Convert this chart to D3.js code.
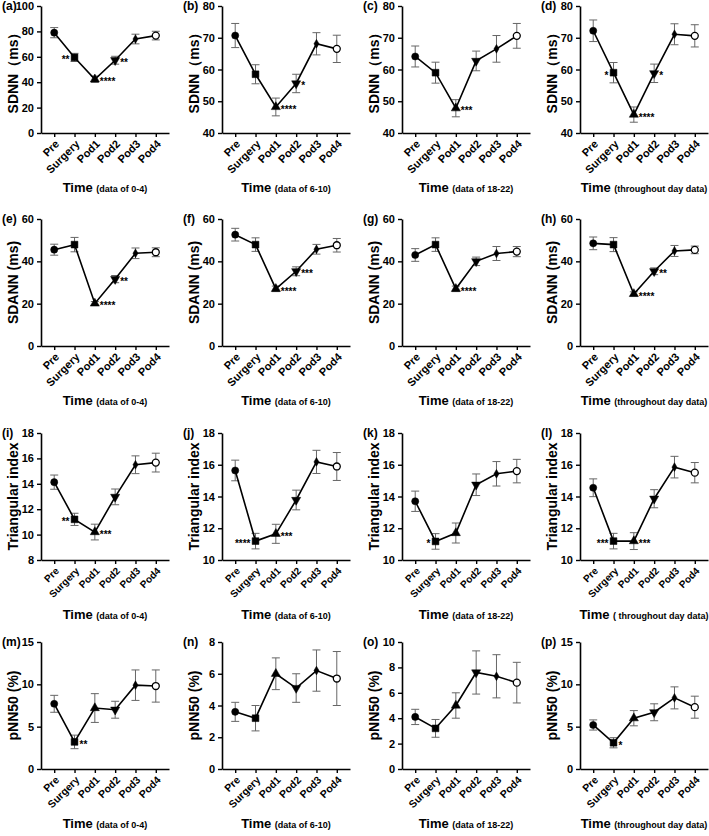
<!DOCTYPE html>
<html>
<head>
<meta charset="utf-8">
<script src="https://cdn.jsdelivr.net/npm/d3@7"></script>
<style>
  body { margin: 0; background: #fff; }
  svg { display: block; }
  text { font-family: "Liberation Sans", Arial, sans-serif; font-weight: bold; fill: #000; }
</style>
</head>
<body>
<svg id="chart" width="709" height="836"></svg>
<script>
// categories on every x axis
var categories = ["Pre", "Surgery", "Pod1", "Pod2", "Pod3", "Pod4"];

// SDNN (ms)
var sdnn04 = [79, 59.5, 42.3, 57.3, 74, 76.7];
var sdnn04Err = [4, 3.2, 2.5, 3.1, 3.8, 3.4];
var sdnn610 = [70.7, 58.5, 48.2, 55.6, 68.1, 66.5];
var sdnn610Err = [3.8, 3, 2.8, 2.9, 3.5, 4.3];
var sdnn1822 = [64.1, 59, 47.8, 62.7, 66.5, 70.6];
var sdnn1822Err = [3.3, 3.3, 2.7, 3.1, 4.2, 3.9];
var sdnnDay = [72.2, 59, 45.8, 58.8, 71.1, 70.6];
var sdnnDayErr = [3.4, 3.2, 2.4, 2.9, 3.3, 3.5];

// SDANN (ms)
var sdann04 = [45.5, 47.9, 20.1, 31.6, 43.8, 44.3];
var sdann04Err = [2.6, 3.4, 0.9, 1.7, 2.5, 2.1];
var sdann610 = [52.6, 47.9, 27, 35.3, 45.7, 47.6];
var sdann610Err = [3, 3.2, 1.3, 2.1, 2.3, 3.2];
var sdann1822 = [43, 47.9, 27, 40, 43.7, 44.6];
var sdann1822Err = [3, 3.2, 1.3, 2, 3.3, 2.4];
var sdannDay = [48.5, 47.9, 24.6, 35.3, 44.9, 45.4];
var sdannDayErr = [3, 3.3, 1, 1.6, 2.6, 1.8];

// Triangular index
var tri04 = [14.13, 11.2, 10.2, 12.97, 15.5, 15.67];
var tri04Err = [0.56, 0.48, 0.62, 0.62, 0.7, 0.74];
var tri610 = [15.64, 11.19, 11.65, 13.78, 16.18, 15.89];
var tri610Err = [0.65, 0.49, 0.6, 0.62, 0.73, 0.88];
var tri1822 = [13.7, 11.17, 11.7, 14.74, 15.43, 15.6];
var tri1822Err = [0.64, 0.49, 0.63, 0.68, 0.77, 0.74];
var triDay = [14.55, 11.19, 11.19, 13.86, 15.85, 15.5];
var triDayErr = [0.56, 0.49, 0.53, 0.57, 0.68, 0.64];

// pNN50 (%)
var pnn04 = [7.7, 3.2, 7.2, 7, 9.9, 9.8];
var pnn04Err = [1, 0.8, 1.7, 1, 1.8, 1.9];
var pnn610 = [3.6, 3.2, 6, 5.1, 6.2, 5.7];
var pnn610Err = [0.6, 0.8, 1, 0.9, 1.3, 1.7];
var pnn1822 = [4.1, 3.2, 5, 7.6, 7.3, 6.8];
var pnn1822Err = [0.6, 0.7, 1, 1.7, 1.7, 1.6];
var pnnDay = [5.2, 3.1, 6, 6.7, 8.4, 7.3];
var pnnDayErr = [0.6, 0.6, 0.9, 1, 1.3, 1.3];

// significance marks ("<" = drawn left of the point)
var sdnn04Sig = ["", "<**", "****", "**", "", ""];
var sdnn610Sig = ["", "", "****", "*", "", ""];
var sdnn1822Sig = ["", "", "***", "", "", ""];
var sdnnDaySig = ["", "<*", "****", "*", "", ""];
var sdann04Sig = ["", "", "****", "**", "", ""];
var sdann610Sig = ["", "", "****", "***", "", ""];
var sdann1822Sig = ["", "", "****", "", "", ""];
var sdannDaySig = ["", "", "****", "**", "", ""];
var tri04Sig = ["", "<**", "***", "", "", ""];
var tri610Sig = ["", "<****", "***", "", "", ""];
var tri1822Sig = ["", "<*", "", "", "", ""];
var triDaySig = ["", "<***", "***", "", "", ""];
var pnn04Sig = ["", "**", "", "", "", ""];
var pnn610Sig = ["", "", "", "", "", ""];
var pnn1822Sig = ["", "", "", "", "", ""];
var pnnDaySig = ["", "*", "", "", "", ""];

// axis tick labels
var sdnn04Ticks = [0, 20, 40, 60, 80, 100];
var sdnnTicks = [40, 50, 60, 70, 80];
var sdannTicks = [0, 20, 40, 60];
var triTicks04 = [8, 10, 12, 14, 16, 18];
var triTicks = [10, 12, 14, 16, 18];
var pnnTicks15 = [0, 5, 10, 15];
var pnnTicks8 = [0, 2, 4, 6, 8];
var pnnTicks10 = [0, 2, 4, 6, 8, 10];

var subtitles = ["(data of 0-4)", "(data of 6-10)", "(data of 18-22)", "(throughout day data)"];
var subtitlesTri = ["(data of 0-4)", "(data of 6-10)", "(data of 18-22)", "( throughout day data)"];

var panels = [
  {id: "a", ylab: "SDNN（ms）", ticks: sdnn04Ticks, v: sdnn04, e: sdnn04Err, sig: sdnn04Sig, sub: subtitles[0]},
  {id: "b", ylab: "SDNN（ms）", ticks: sdnnTicks, v: sdnn610, e: sdnn610Err, sig: sdnn610Sig, sub: subtitles[1]},
  {id: "c", ylab: "SDNN（ms）", ticks: sdnnTicks, v: sdnn1822, e: sdnn1822Err, sig: sdnn1822Sig, sub: subtitles[2]},
  {id: "d", ylab: "SDNN（ms）", ticks: sdnnTicks, v: sdnnDay, e: sdnnDayErr, sig: sdnnDaySig, sub: subtitles[3]},
  {id: "e", ylab: "SDANN (ms)", ticks: sdannTicks, v: sdann04, e: sdann04Err, sig: sdann04Sig, sub: subtitles[0]},
  {id: "f", ylab: "SDANN (ms)", ticks: sdannTicks, v: sdann610, e: sdann610Err, sig: sdann610Sig, sub: subtitles[1]},
  {id: "g", ylab: "SDANN (ms)", ticks: sdannTicks, v: sdann1822, e: sdann1822Err, sig: sdann1822Sig, sub: subtitles[2]},
  {id: "h", ylab: "SDANN (ms)", ticks: sdannTicks, v: sdannDay, e: sdannDayErr, sig: sdannDaySig, sub: subtitles[3]},
  {id: "i", ylab: "Triangular index", ticks: triTicks04, v: tri04, e: tri04Err, sig: tri04Sig, sub: subtitlesTri[0]},
  {id: "j", ylab: "Triangular index", ticks: triTicks, v: tri610, e: tri610Err, sig: tri610Sig, sub: subtitlesTri[1]},
  {id: "k", ylab: "Triangular index", ticks: triTicks, v: tri1822, e: tri1822Err, sig: tri1822Sig, sub: subtitlesTri[2]},
  {id: "l", ylab: "Triangular index", ticks: triTicks, v: triDay, e: triDayErr, sig: triDaySig, sub: subtitlesTri[3]},
  {id: "m", ylab: "pNN50 (%)", ticks: pnnTicks15, v: pnn04, e: pnn04Err, sig: pnn04Sig, sub: subtitles[0]},
  {id: "n", ylab: "pNN50 (%)", ticks: pnnTicks8, v: pnn610, e: pnn610Err, sig: pnn610Sig, sub: subtitles[1]},
  {id: "o", ylab: "pNN50 (%)", ticks: pnnTicks10, v: pnn1822, e: pnn1822Err, sig: pnn1822Sig, sub: subtitles[2]},
  {id: "p", ylab: "pNN50 (%)", ticks: pnnTicks15, v: pnnDay, e: pnnDayErr, sig: pnnDaySig, sub: subtitles[3]}
];

// layout of the 4x4 grid
var colX = [41, 222, 402, 580];
var rowTop = [6, 219, 433, 642];
var rowCatFont = [11, 11, 10, 10.5];
var plotH = 127, plotW = 128;

var symbols = [
  {type: d3.symbolCircle, size: 40, fill: true},
  {type: d3.symbolSquare, size: 46, fill: true},
  {type: d3.symbolTriangle, size: 36, fill: true},
  {type: d3.symbolTriangle, size: 36, fill: true, rot: 180},
  {type: d3.symbolDiamond, size: 22, fill: true},
  {type: d3.symbolCircle, size: 38, fill: false}
];

var svg = d3.select("#chart");

panels.forEach(function(p, k) {
  var row = Math.floor(k / 4);
  var x0 = colX[k % 4], y0 = rowTop[row];
  var g = svg.append("g").attr("transform", "translate(" + x0 + "," + y0 + ")");

  var x = d3.scalePoint().domain(categories).range([0, plotW]).padding(0.65);
  var y = d3.scaleLinear().domain(d3.extent(p.ticks)).range([plotH, 0]);

  var yAxis = g.append("g")
    .call(d3.axisLeft(y).tickValues(p.ticks).tickSize(4).tickSizeOuter(0).tickPadding(3));
  var xAxis = g.append("g").attr("transform", "translate(0," + plotH + ")")
    .call(d3.axisBottom(x).tickSize(4).tickSizeOuter(0).tickFormat(""));
  [yAxis, xAxis].forEach(function(a) {
    a.select(".domain").attr("stroke-width", 1.6);
    a.selectAll(".tick line").attr("stroke-width", 1.4);
  });
  yAxis.selectAll(".tick text").style("font-size", "11px");

  // rotated category labels
  g.selectAll(".cat").data(categories).enter().append("text")
    .attr("class", "cat")
    .attr("transform", function(d) { return "translate(" + (x(d) + 3) + "," + (plotH + 9) + ") rotate(-45)"; })
    .attr("text-anchor", "end")
    .attr("dy", "0.35em")
    .style("font-size", rowCatFont[row] + "px")
    .text(function(d) { return d; });

  // error bars
  var eb = g.append("g").attr("stroke", "#666").attr("stroke-width", 1);
  categories.forEach(function(c, i) {
    var cx = x(c), top = y(p.v[i] + p.e[i]), bot = y(p.v[i] - p.e[i]);
    eb.append("line").attr("x1", cx).attr("x2", cx).attr("y1", top).attr("y2", bot);
    eb.append("line").attr("x1", cx - 4).attr("x2", cx + 4).attr("y1", top).attr("y2", top);
    eb.append("line").attr("x1", cx - 4).attr("x2", cx + 4).attr("y1", bot).attr("y2", bot);
  });

  // connecting line
  g.append("path")
    .datum(p.v)
    .attr("fill", "none").attr("stroke", "#000").attr("stroke-width", 1.6)
    .attr("d", d3.line().x(function(d, i) { return x(categories[i]); }).y(function(d) { return y(d); }));

  // markers
  p.v.forEach(function(v, i) {
    var s = symbols[i];
    g.append("path")
      .attr("d", d3.symbol().type(s.type).size(s.size)())
      .attr("transform", "translate(" + x(categories[i]) + "," + y(v) + ")" + (s.rot ? " rotate(" + s.rot + ")" : ""))
      .attr("fill", s.fill ? "#000" : "#fff")
      .attr("stroke", "#000").attr("stroke-width", s.fill ? 0.5 : 1.3);
  });

  // significance stars
  p.sig.forEach(function(s, i) {
    if (!s) return;
    var left = s.charAt(0) === "<";
    var txt = left ? s.slice(1) : s;
    g.append("text")
      .attr("x", x(categories[i]) + (left ? -5 : 5))
      .attr("y", y(p.v[i]) + 6)
      .attr("text-anchor", left ? "end" : "start")
      .style("font-size", "10px")
      .text(txt);
  });

  // y label
  g.append("text")
    .attr("transform", "translate(-28," + (plotH / 2) + ") rotate(-90)")
    .attr("text-anchor", "middle")
    .attr("dy", "0.35em")
    .style("font-size", "14px")
    .text(p.ylab);

  // panel letter
  g.append("text")
    .attr("x", -39).attr("y", 4)
    .style("font-size", "12px")
    .text("(" + p.id + ")");

  // x title
  var t = g.append("text")
    .attr("x", plotW / 2).attr("y", plotH + 59)
    .attr("text-anchor", "middle");
  t.append("tspan").style("font-size", "13px").text("Time ");
  t.append("tspan").style("font-size", "9px").text(p.sub);
});
</script>
</body>
</html>
